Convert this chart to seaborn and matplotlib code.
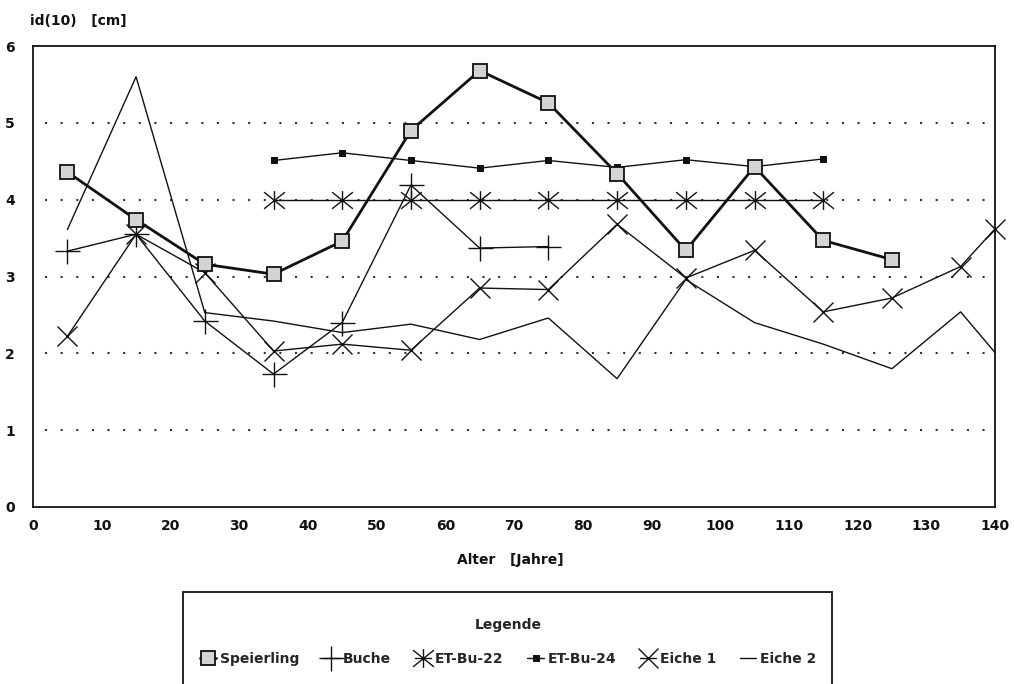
import numpy as np
import pandas as pd
import matplotlib
matplotlib.use("Agg")
import matplotlib.pyplot as plt
from matplotlib.patches import Rectangle
from matplotlib.path import Path
import seaborn as sns

# data (x = middle of the decade)
alter = [5, 15, 25, 35, 45, 55, 65, 75, 85, 95, 105, 115, 125, 135, 140]

speierling_x = alter[:13]
speierling = [4.36, 3.74, 3.16, 3.03, 3.46, 4.90, 5.68, 5.26, 4.34, 3.34, 4.43, 3.47, 3.22]

buche_x = alter[:8]
buche = [3.33, 3.55, 2.42, 1.73, 2.40, 4.19, 3.37, 3.39]

etbu22_x = alter[3:12]
etbu22 = [4.0, 4.0, 4.0, 4.0, 4.0, 4.0, 4.0, 4.0, 4.0]

etbu24_x = alter[3:12]
etbu24 = [4.51, 4.61, 4.51, 4.41, 4.51, 4.42, 4.52, 4.43, 4.53]

eiche1_x = alter
eiche1 = [2.22, 3.55, 3.05, 2.03, 2.12, 2.04, 2.85, 2.83, 3.68, 2.98, 3.34, 2.54, 2.72, 3.13, 3.62]

eiche2_x = alter
eiche2 = [3.61, 5.60, 2.53, 2.42, 2.27, 2.38, 2.18, 2.46, 1.67, 2.96, 2.40, 2.12, 1.80, 2.54, 2.01]

sns.set_theme(style="white")
plt.rcParams['font.family'] = ['DejaVu Sans']

ink = '#111111'

# asterisk: vertical stroke plus a wide X
star = Path([(0, -0.9), (0, 0.9), (-1, -0.8), (1, 0.8), (-1, 0.8), (1, -0.8)],
            [Path.MOVETO, Path.LINETO, Path.MOVETO, Path.LINETO, Path.MOVETO, Path.LINETO])

fig = plt.figure(figsize=(10.14, 6.84), dpi=100)
ax = fig.add_axes([33/1014, 1-507/684, (995-33)/1014, (507-46)/684])

series = [
    ("Eiche 2", eiche2_x, eiche2, dict(marker=None, lw=1.0)),
    ("Eiche 1", eiche1_x, eiche1, dict(marker='x', ms=14, mew=1.0, mec=ink, lw=1.0)),
    ("ET-Bu-24", etbu24_x, etbu24, dict(marker='s', ms=4.5, mfc=ink, mec=ink, lw=1.0)),
    ("ET-Bu-22", etbu22_x, etbu22, dict(marker=star, ms=15, mew=1.0, mec=ink, lw=1.0)),
    ("Buche", buche_x, buche, dict(marker='+', ms=18, mew=1.0, mec=ink, lw=1.0)),
    ("Speierling", speierling_x, speierling, dict(marker='s', ms=9.5, mfc='#d4d4d4', mec=ink, mew=1.3, lw=2.0)),
]

handles = {}
for name, xs, ys, kw in series:
    sns.lineplot(x=xs, y=ys, color=ink, ax=ax, sort=False, estimator=None,
                 label=name, clip_on=False, zorder=3, **kw)
    handles[name] = ax.get_lines()[-1]

ax.set_xlim(0, 140)
ax.set_ylim(0, 6)
ax.set_xticks(np.arange(0, 141, 10))
ax.set_yticks(np.arange(0, 7, 1))
ax.tick_params(length=0, labelsize=10, colors=ink)
ax.tick_params(axis='y', pad=13)
ax.tick_params(axis='x', pad=9)
for lab in ax.get_xticklabels() + ax.get_yticklabels():
    lab.set_fontweight('bold')
for sp in ax.spines.values():
    sp.set_color(ink)
    sp.set_linewidth(1.3)

for yv in [1, 2, 3, 4, 5]:
    ax.axhline(yv, xmin=0.012, xmax=0.99, color='#333333', lw=1.5,
               linestyle=(0, (1, 6.5)), zorder=1)

ax.get_legend().remove()

fig.text(30/1014, 1-21/684, "id(10)   [cm]", fontsize=10, fontweight='bold',
         color=ink, va='center', ha='left')
fig.text(510/1014, 1-560/684, "Alter   [Jahre]", fontsize=10, fontweight='bold',
         color=ink, va='center', ha='center')

# legend box runs past the bottom edge of the page
fig.patches.append(Rectangle((183/1014, -0.05), (832-183)/1014, 1-592/684+0.05,
                             transform=fig.transFigure, fill=False, edgecolor=ink, lw=1.3))

order = ["Speierling", "Buche", "ET-Bu-22", "ET-Bu-24", "Eiche 1", "Eiche 2"]
leg = fig.legend([handles[n] for n in order], order, loc='center',
                 bbox_to_anchor=(508/1014, 1-642/684), ncol=6, title="Legende",
                 frameon=False, handlelength=1.2, labelspacing=1.4,
                 handletextpad=0.25, columnspacing=1.7, borderpad=0.2,
                 prop={'size': 10, 'weight': 'bold'},
                 title_fontproperties={'size': 10, 'weight': 'bold'})

fig.savefig("out.png", dpi=100, facecolor='white')
